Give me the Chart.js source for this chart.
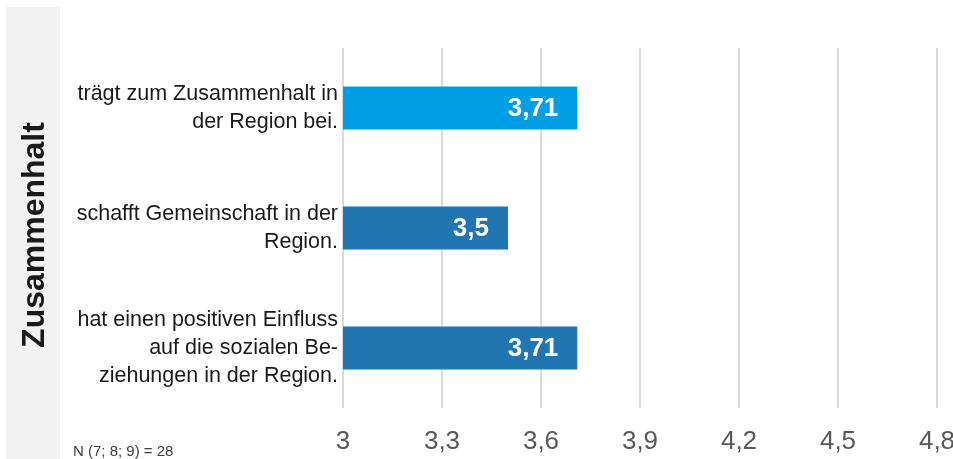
<!DOCTYPE html>
<html>
<head>
<meta charset="utf-8">
<script src="https://cdn.jsdelivr.net/npm/chart.js@4/dist/chart.umd.min.js"></script>
<style>
  html, body { margin: 0; padding: 0; background: #fff; overflow: hidden; }
  #wrap { position: relative; width: 953px; height: 459px; }
</style>
</head>
<body>
<div id="wrap"><canvas id="c"></canvas></div>
<script>
const categories = [
  ["trägt zum Zusammenhalt in", "der Region bei."],
  ["schafft Gemeinschaft in der", "Region."],
  ["hat einen positiven Einfluss", "auf die sozialen Be-", "ziehungen in der Region."]
];
const values = [3.71, 3.5, 3.71];
const valueLabels = ["3,71", "3,5", "3,71"];
const barColors = ["#009fe3", "#2175b0", "#2175b0"];
const tickLabels = ["3", "3,3", "3,6", "3,9", "4,2", "4,5", "4,8"];
const groupTitle = "Zusammenhalt";
const footnote = "N (7; 8; 9) = 28";

const FONT = "'Liberation Sans', Arial, sans-serif";

const decor = {
  id: 'decor',
  beforeDraw(chart) {
    const ctx = chart.ctx;
    ctx.save();
    ctx.fillStyle = '#f2f2f2';
    ctx.fillRect(6, 7, 54, 452);
    ctx.restore();
  },
  afterDraw(chart) {
    const ctx = chart.ctx;
    ctx.save();
    ctx.translate(35, 235);
    ctx.rotate(-Math.PI / 2);
    ctx.font = "bold 32px " + FONT;
    ctx.fillStyle = '#1a1a1a';
    ctx.textAlign = 'center';
    ctx.textBaseline = 'middle';
    ctx.fillText(groupTitle, 0, 0);
    ctx.restore();
    ctx.save();
    ctx.font = "15px " + FONT;
    ctx.fillStyle = '#404040';
    ctx.textAlign = 'left';
    ctx.textBaseline = 'middle';
    ctx.fillText(footnote, 73, 452);
    ctx.restore();
    const meta = chart.getDatasetMeta(0);
    ctx.save();
    ctx.font = "bold 26px " + FONT;
    ctx.fillStyle = '#ffffff';
    ctx.textAlign = 'right';
    ctx.textBaseline = 'middle';
    meta.data.forEach((bar, i) => {
      ctx.fillText(valueLabels[i], bar.x - 19, bar.y + 1);
    });
    ctx.restore();
  }
};

new Chart(document.getElementById('c'), {
  type: 'bar',
  data: {
    labels: categories,
    datasets: [{
      data: values,
      backgroundColor: barColors,
      borderWidth: 0,
      barPercentage: 0.72,
      categoryPercentage: 0.5
    }]
  },
  options: {
    indexAxis: 'y',
    responsive: true,
    maintainAspectRatio: false,
    animation: false,
    events: [],
    layout: { padding: { top: 48, bottom: 0, left: 0, right: 16 } },
    plugins: { legend: { display: false }, tooltip: { enabled: false } },
    scales: {
      x: {
        min: 3,
        max: 4.8,
        afterFit(scale) { scale.paddingRight = 0; scale.paddingLeft = 0; scale.height = 51; },
        ticks: {
          stepSize: 0.3,
          color: '#595959',
          font: { family: FONT, size: 26 },
          padding: 18,
          maxRotation: 0,
          autoSkip: false,
          callback: (v, i) => tickLabels[i]
        },
        grid: { color: '#d9d9d9', lineWidth: 2, drawTicks: false },
        border: { display: false }
      },
      y: {
        afterFit(scale) { scale.width = 343; },
        ticks: {
          color: '#1a1a1a',
          font: { family: FONT, size: 21.5, lineHeight: 1.3 },
          padding: 5
        },
        grid: { display: false, drawTicks: false },
        border: { display: false }
      }
    }
  },
  plugins: [decor]
});
</script>
</body>
</html>
